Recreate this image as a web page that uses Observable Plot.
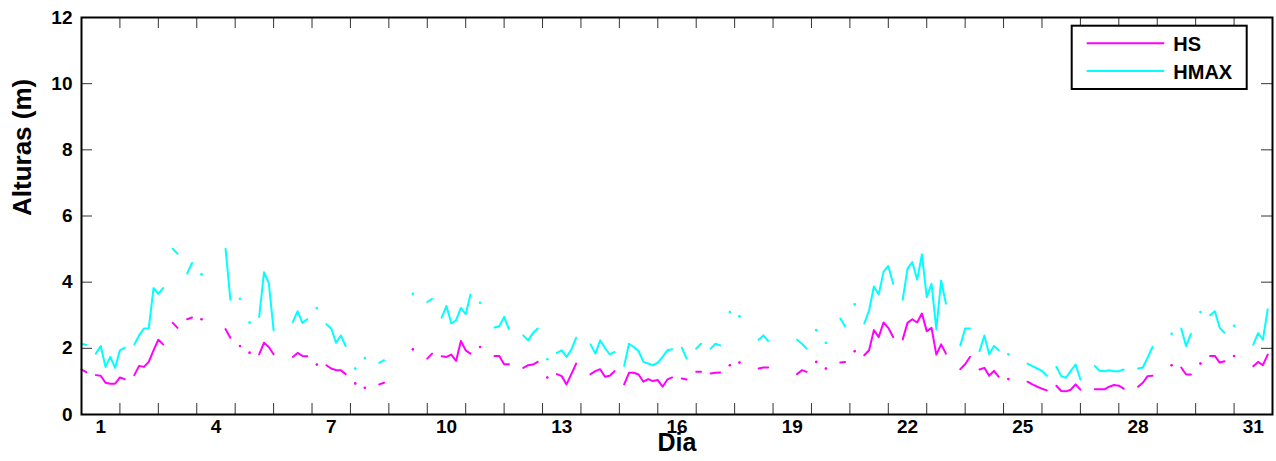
<!DOCTYPE html>
<html><head><meta charset="utf-8">
<script src="https://cdn.jsdelivr.net/npm/d3@7"></script>
<script src="https://cdn.jsdelivr.net/npm/@observablehq/plot@0.6"></script>
<style>
html,body{margin:0;padding:0;background:#fff;}
#wrap{position:relative;width:1276px;height:461px;overflow:hidden;}
#legend{position:absolute;left:1070px;top:24px;}
</style></head><body><div id="wrap"></div>
<script>
// 3-hourly samples starting on day 1 at 00h (8 per day), null = missing
const hs = [
1.36,1.28,null,1.19,1.17,0.96,0.93,0.93, 1.12,1.07,null,1.19,1.47,1.44,1.59,1.94,
2.26,2.12,null,2.77,2.62,null,2.88,2.93, null,2.88,null,null,null,null,2.58,2.32,
null,2.07,null,1.87,null,1.82,2.17,2.04, 1.82,null,null,null,1.74,1.86,1.77,1.76,
null,1.51,null,1.49,1.39,1.34,1.34,1.22, null,0.94,null,0.81,null,null,0.91,0.96,
null,null,null,null,null,1.97,null,null, 1.69,1.84,null,1.76,1.74,1.81,1.62,2.22,
1.94,1.84,null,2.04,null,null,1.77,1.77, 1.52,1.52,null,null,1.41,1.49,1.51,1.59,
null,1.12,null,1.22,1.16,0.91,1.22,1.54, null,null,1.22,1.31,1.37,1.14,1.17,1.31,
null,0.91,1.26,1.26,1.21,0.99,1.07,1.01, 1.04,0.84,1.06,1.12,null,1.09,1.06,null,
1.29,1.29,null,1.24,1.26,1.27,null,1.49, null,1.57,null,null,null,1.39,1.42,1.42,
null,null,null,null,null,1.22,1.34,1.29, null,1.59,null,1.39,null,null,1.57,1.59,
null,1.91,null,1.79,1.94,2.55,2.34,2.78, 2.62,2.34,null,2.27,2.77,2.88,2.78,3.05,
2.52,2.62,1.81,2.12,1.84,null,null,1.37, 1.52,1.74,null,1.36,1.41,1.17,1.32,1.14,
null,1.07,null,null,null,0.99,0.91,0.84, 0.78,0.73,null,0.87,0.71,0.70,0.75,0.91,
0.75,null,null,0.76,0.76,0.76,0.84,0.89, 0.87,0.78,null,null,0.84,0.96,1.16,1.17,
null,null,null,1.49,null,1.42,1.21,1.21, null,1.54,null,1.77,1.77,1.57,1.61,null,
1.77,null,null,null,1.46,1.59,1.49,1.81
];
const hmax = [
2.14,2.10,null,1.84,2.07,1.44,1.74,1.41, 1.94,2.02,null,2.12,2.39,2.60,2.60,3.82,
3.65,3.82,null,5.01,4.86,null,4.26,4.58, null,4.24,null,null,null,null,5.01,3.47,
null,3.50,null,2.78,null,2.95,4.30,3.97, 2.55,null,null,null,2.80,3.12,2.77,2.88,
null,3.22,null,2.73,2.60,2.17,2.39,2.07, null,1.39,null,1.71,null,null,1.56,1.64,
null,null,null,null,null,3.65,null,null, 3.40,3.50,null,2.93,3.28,2.75,2.85,3.22,
3.03,3.63,null,3.38,null,null,2.63,2.67, 2.95,2.58,null,null,2.39,2.24,2.46,2.60,
null,1.67,null,1.86,1.94,1.74,1.96,2.32, null,null,2.12,1.84,2.24,2.01,1.82,1.89,
null,1.47,2.14,2.04,1.92,1.59,1.54,1.49, 1.57,1.74,1.94,1.97,null,2.02,1.69,null,
1.99,2.14,null,1.99,2.14,2.09,null,3.10, null,2.97,null,null,null,2.26,2.39,2.22,
null,null,null,null,null,2.26,2.14,1.99, null,2.55,null,2.17,null,null,2.90,2.67,
null,3.33,null,2.75,3.15,3.87,3.63,4.31, 4.49,3.95,null,3.47,4.41,4.61,4.07,4.84,
3.55,3.95,2.57,4.05,3.35,null,null,2.09, 2.60,2.60,null,1.91,2.39,1.82,2.07,1.94,
null,1.82,null,null,null,1.54,1.46,1.39, 1.32,1.17,null,1.44,1.16,1.11,1.32,1.51,
1.06,null,null,1.47,1.32,1.31,1.34,1.31, 1.31,1.36,null,null,1.39,1.42,1.72,2.04,
null,null,null,2.44,null,2.60,2.07,2.44, null,3.10,null,3.00,3.12,2.62,2.47,null,
2.68,null,null,null,2.11,2.46,2.26,3.18
];
const seriesNames = ["HS", "HMAX"];
const xLabelDays = [1,4,7,10,13,16,19,22,25,28,31];
const xTickDays = [2,3,4,5,6,7,8,9,10,11,12,13,14,15,16,17,18,19,20,21,22,23,24,25,26,27,28,29,30,31];
const yTicks = [0,2,4,6,8,10,12];

const colors = {HS: "#ff00ff", HMAX: "#00ffff"};
const W = 1276, H = 461, mL = 81, mR = 4, mT = 17, mB = 47;
const plotH = H - mT - mB, plotW = W - mL - mR, tickLen = 11;
const font = "'Liberation Sans', Arial, Helvetica, sans-serif";

function toRows(name, values) {
  return values.map((v, i) => ({series: name, day: 1 + i / 8, value: v, i}));
}
const rowsHS = toRows("HS", hs);
const rowsHMAX = toRows("HMAX", hmax);
function isolated(rows) {
  return rows.filter((r, i) => r.value != null &&
    (i === 0 || rows[i-1].value == null) &&
    (i === rows.length - 1 || rows[i+1].value == null));
}

const chart = Plot.plot({
  width: W, height: H,
  marginLeft: mL, marginRight: mR, marginTop: mT, marginBottom: mB,
  x: {domain: [1, 32], axis: null},
  y: {domain: [0, 12], axis: null},
  style: {fontFamily: font, background: "white", color: "black", overflow: "visible"},
  marks: [
    Plot.line(rowsHS, {x: "day", y: "value", stroke: colors.HS, strokeWidth: 2}),
    Plot.line(rowsHMAX, {x: "day", y: "value", stroke: colors.HMAX, strokeWidth: 2}),
    Plot.dot(isolated(rowsHS), {x: "day", y: "value", r: 1.3, fill: colors.HS, stroke: null}),
    Plot.dot(isolated(rowsHMAX), {x: "day", y: "value", r: 1.3, fill: colors.HMAX, stroke: null}),
    Plot.ruleX(xTickDays, {x: d => d, insetTop: plotH - tickLen, stroke: "#333", strokeWidth: 1}),
    Plot.ruleX(xTickDays, {x: d => d, insetBottom: plotH - tickLen, stroke: "#333", strokeWidth: 1}),
    Plot.ruleY(yTicks, {y: d => d, insetRight: plotW - tickLen, stroke: "#333", strokeWidth: 1}),
    Plot.ruleY(yTicks, {y: d => d, insetLeft: plotW - tickLen, stroke: "#333", strokeWidth: 1}),
    Plot.frame({stroke: "black", strokeWidth: 2}),
    Plot.axisX(xLabelDays.map(d => d + 0.5), {
      tickSize: 0, tickPadding: 5, tickFormat: d => String(Math.round(d - 0.5)),
      fontSize: 19, fontWeight: "bold", label: null
    }),
    Plot.axisY(yTicks, {
      tickSize: 0, tickPadding: 9, fontSize: 19, fontWeight: "bold", label: null
    }),
    Plot.text(["Dia"], {text: d => d, frameAnchor: "bottom", dy: 36, fontSize: 25, fontWeight: "bold"}),
    Plot.text(["Alturas (m)"], {text: d => d, frameAnchor: "left", dx: -59, rotate: -90, fontSize: 26, fontWeight: "bold"})
  ]
});
const wrap = document.getElementById("wrap");
wrap.appendChild(chart);

// legend overlay
const ns = "http://www.w3.org/2000/svg";
const lg = document.createElementNS(ns, "svg");
lg.setAttribute("id", "legend");
lg.setAttribute("width", 180);
lg.setAttribute("height", 68);
lg.style.fontFamily = font;
const rect = document.createElementNS(ns, "rect");
rect.setAttribute("x", 1.7); rect.setAttribute("y", 1.7);
rect.setAttribute("width", 175); rect.setAttribute("height", 63.3);
rect.setAttribute("fill", "white"); rect.setAttribute("stroke", "black"); rect.setAttribute("stroke-width", 2);
lg.appendChild(rect);
seriesNames.forEach((name, k) => {
  const yy = 19.3 + k * 27.7;
  const ln = document.createElementNS(ns, "line");
  ln.setAttribute("x1", 16.7); ln.setAttribute("x2", 94.3);
  ln.setAttribute("y1", yy); ln.setAttribute("y2", yy);
  ln.setAttribute("stroke", colors[name]); ln.setAttribute("stroke-width", 2);
  lg.appendChild(ln);
  const t = document.createElementNS(ns, "text");
  t.setAttribute("x", 103.3); t.setAttribute("y", yy + 8);
  t.setAttribute("font-size", 20); t.setAttribute("font-weight", "bold");
  t.textContent = name;
  lg.appendChild(t);
});
wrap.appendChild(lg);
</script></body></html>
